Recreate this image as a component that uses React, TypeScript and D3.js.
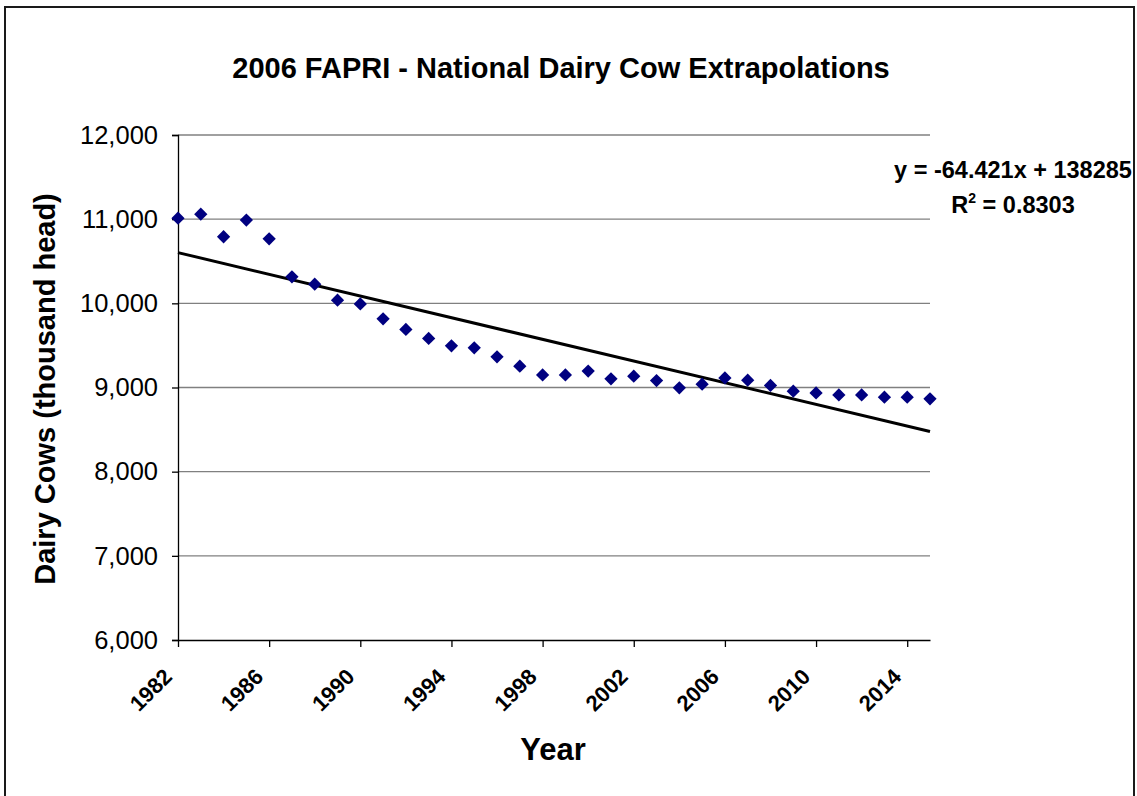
import React, { useEffect, useRef } from 'react';
import * as d3 from 'd3';

// Dairy cow inventory (thousand head)
const years: number[] = [
  1982, 1983, 1984, 1985, 1986, 1987, 1988, 1989, 1990, 1991, 1992, 1993,
  1994, 1995, 1996, 1997, 1998, 1999, 2000, 2001, 2002, 2003, 2004, 2005,
  2006, 2007, 2008, 2009, 2010, 2011, 2012, 2013, 2014, 2015,
];
const cows: number[] = [
  11011, 11059, 10791, 10989, 10767, 10315, 10228, 10038, 9993, 9816, 9690, 9583,
  9495, 9471, 9364, 9253, 9150, 9150, 9195, 9103, 9134, 9083, 8996, 9039,
  9114, 9087, 9024, 8956, 8936, 8912, 8912, 8885, 8885, 8865,
];
const yTicks: number[] = [6000, 7000, 8000, 9000, 10000, 11000, 12000];
const xTicks: number[] = [1982, 1986, 1990, 1994, 1998, 2002, 2006, 2010, 2014];

// linear trendline shown on the chart
const trendSlope = -64.421;
const trendIntercept = 138285;
const trendLabel = 'y = -64.421x + 138285';
const r2Value = '0.8303';

const FONT = '"Liberation Sans", Arial, Helvetica, sans-serif';

const App: React.FC = () => {
  const svgRef = useRef<SVGSVGElement>(null);
  const width = 1137;
  const height = 796;

  useEffect(() => {
    if (!svgRef.current) return;
    const svg = d3.select(svgRef.current);
    svg.selectAll('*').remove();

    const left = 178, right = 930, top = 135, bottom = 640;

    const x = d3.scaleLinear().domain([years[0], years[years.length - 1]]).range([left, right]);
    const y = d3.scaleLinear().domain([6000, 12000]).range([bottom, top]);

    // outer frame
    svg.append('rect')
      .attr('x', 5).attr('y', 7)
      .attr('width', 1129).attr('height', 800)
      .attr('fill', 'white')
      .attr('stroke', '#1a1a1a')
      .attr('stroke-width', 2);

    // title
    svg.append('text')
      .attr('x', 561).attr('y', 78)
      .attr('text-anchor', 'middle')
      .attr('font-family', FONT)
      .attr('font-weight', 'bold')
      .attr('font-size', 29)
      .text('2006 FAPRI - National Dairy Cow Extrapolations');

    // gridlines
    svg.append('g')
      .selectAll('line')
      .data(yTicks.filter(d => d > 6000))
      .enter()
      .append('line')
      .attr('x1', left).attr('x2', right)
      .attr('y1', d => y(d)).attr('y2', d => y(d))
      .attr('stroke', '#808080')
      .attr('stroke-width', 1.3);

    // y axis
    const yAxis = d3.axisLeft(y)
      .tickValues(yTicks)
      .tickSize(6)
      .tickPadding(14)
      .tickFormat(d => d3.format(',')(d as number));
    const gy = svg.append('g')
      .attr('transform', `translate(${left},0)`)
      .call(yAxis);
    gy.select('.domain').attr('stroke', '#000').attr('stroke-width', 1.3);
    gy.selectAll('.tick line').attr('stroke', '#000').attr('stroke-width', 1.3);
    gy.selectAll('.tick text')
      .attr('font-family', FONT)
      .attr('font-size', 25.5)
      .attr('fill', '#000');

    // x axis
    const xAxis = d3.axisBottom(x)
      .tickValues(xTicks)
      .tickSize(7)
      .tickSizeOuter(0)
      .tickFormat(d => String(d));
    const gx = svg.append('g')
      .attr('transform', `translate(0,${bottom})`)
      .call(xAxis);
    gx.select('.domain').attr('stroke', '#000').attr('stroke-width', 1.3);
    gx.selectAll('.tick line').attr('stroke', '#000').attr('stroke-width', 1.3);
    gx.selectAll('.tick text')
      .attr('font-family', FONT)
      .attr('font-size', 22)
      .attr('font-weight', 'bold')
      .attr('fill', '#000')
      .attr('text-anchor', 'end')
      .attr('dy', null)
      .attr('y', 0)
      .attr('transform', 'translate(-5,38) rotate(-45)');

    // axis titles
    svg.append('text')
      .attr('x', 553).attr('y', 760)
      .attr('text-anchor', 'middle')
      .attr('font-family', FONT)
      .attr('font-weight', 'bold')
      .attr('font-size', 31)
      .text('Year');

    svg.append('text')
      .attr('transform', 'translate(55,389) rotate(-90)')
      .attr('text-anchor', 'middle')
      .attr('font-family', FONT)
      .attr('font-weight', 'bold')
      .attr('font-size', 29)
      .text('Dairy Cows (thousand head)');

    // trendline
    const trendYears = [years[0], years[years.length - 1]];
    svg.append('path')
      .datum(trendYears)
      .attr('fill', 'none')
      .attr('stroke', '#000')
      .attr('stroke-width', 3)
      .attr('d', d3.line<number>()
        .x(d => x(d))
        .y(d => y(trendSlope * d + trendIntercept)));

    // data points (diamonds)
    const diamond = d3.symbol().type(d3.symbolSquare).size(88);
    svg.append('g')
      .selectAll('path')
      .data(years.map((yr, i) => ({ yr, v: cows[i] })))
      .enter()
      .append('path')
      .attr('d', diamond() as string)
      .attr('transform', d => `translate(${x(d.yr)},${y(d.v)}) rotate(45)`)
      .attr('fill', '#000080');

    // trendline equation
    const eq = svg.append('g')
      .attr('font-family', FONT)
      .attr('font-weight', 'bold')
      .attr('font-size', 23.5)
      .attr('text-anchor', 'middle');
    eq.append('text')
      .attr('x', 1013).attr('y', 178)
      .text(trendLabel);
    const r2 = eq.append('text')
      .attr('x', 1013).attr('y', 213);
    r2.append('tspan').text('R');
    r2.append('tspan').attr('font-size', 14).attr('dy', -10).text('2');
    r2.append('tspan').attr('dy', 10).text(` = ${r2Value}`);
  }, []);

  return (
    <svg
      ref={svgRef}
      width={width}
      height={height}
      style={{ position: 'absolute', left: 0, top: 0, background: 'white' }}
    />
  );
};

export default App;
